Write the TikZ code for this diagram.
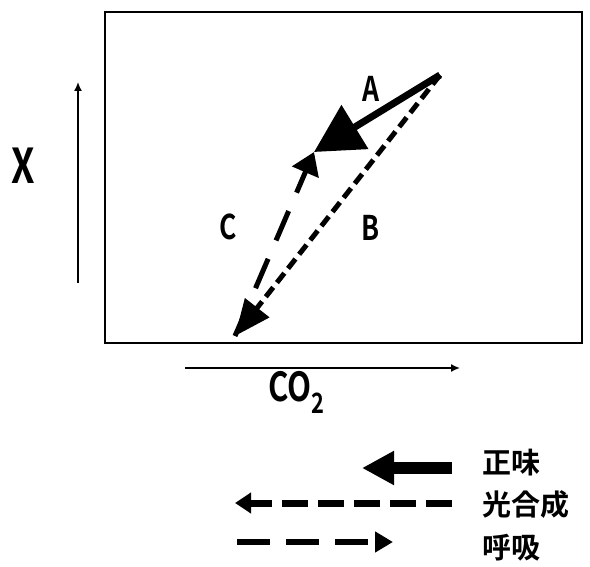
\documentclass[tikz,border=0pt]{standalone}
\usepackage{fontspec}
\setmainfont{Noto Sans CJK JP}[BoldFont={* Bold}]
\newfontfamily\latfont{Noto Sans CJK JP}[FakeStretch=0.78, BoldFont={* Bold}]
\usetikzlibrary{arrows.meta, positioning}

\begin{document}
\begin{tikzpicture}[x=1pt, y=-1pt,
    lbl/.style={font=\latfont\bfseries\fontsize{34}{34}\selectfont, inner sep=0pt},
    leg/.style={anchor=west, font=\bfseries\fontsize{29}{29}\selectfont, inner sep=0pt},
    ax/.style={line width=1.6pt, -{Latex[length=9pt, width=8pt]}},
    net/.style={line width=7pt, -{Triangle[length=48pt, width=50pt]}},
    photo/.style={line width=5pt, dash pattern=on 12pt off 6pt, -{Triangle[length=36pt, width=30pt]}},
    resp/.style={line width=5pt, dash pattern=on 32pt off 20pt, -{Triangle[length=22pt, width=28pt]}}]
    \useasboundingbox (0,0) rectangle (590,567);
    \node[draw, line width=2pt, minimum width=477pt, minimum height=331pt] (frame) at (343.5,177.5) {};
    % the three vectors
    \coordinate (p) at (440,75);
    \coordinate (q) at (235,336);
    \coordinate (r) at (314,152);
    \draw[photo] (p) -- (q);
    \draw[resp] (q) -- (r);
    \draw[net] (p) -- (r);
    \node[lbl] (a) at (371,89) {A};
    \node[lbl] (b) at (371,228) {B};
    \node[lbl] (c) at (228,227) {C};
    % axes
    \coordinate (y0) at (78,283);
    \coordinate (y1) at (78,82);
    \coordinate (x0) at (185,368);
    \coordinate (x1) at (460,368);
    \draw[ax] (y0) -- (y1);
    \draw[ax] (x0) -- (x1);
    \node[lbl, font=\latfont\bfseries\fontsize{48}{48}\selectfont] (xl) at (23,166) {X};
    \node[lbl, font=\latfont\bfseries\fontsize{40}{40}\selectfont, anchor=west] (co) at (268,392) {CO\textsubscript{2}};
    % legend
    \node[leg] (n1) at (482,463) {正味};
    \node[leg] (n2) at (482,505) {光合成};
    \node[leg] (n3) at (482,548) {呼吸};
    \coordinate (l1) at (452,468);
    \coordinate (l2) at (452,503);
    \coordinate (l3) at (237,542);
    \draw[line width=12pt, -{Triangle[length=32pt, width=32pt]}] (l1) -- (362,468);
    \draw[line width=7pt, dash pattern=on 26pt off 10pt, -{Triangle[length=16pt, width=20pt]}] (l2) -- (235,503);
    \draw[line width=6pt, dash pattern=on 33pt off 16pt, -{Triangle[length=18pt, width=20pt]}] (l3) -- (393,542);
\end{tikzpicture}
\end{document}
